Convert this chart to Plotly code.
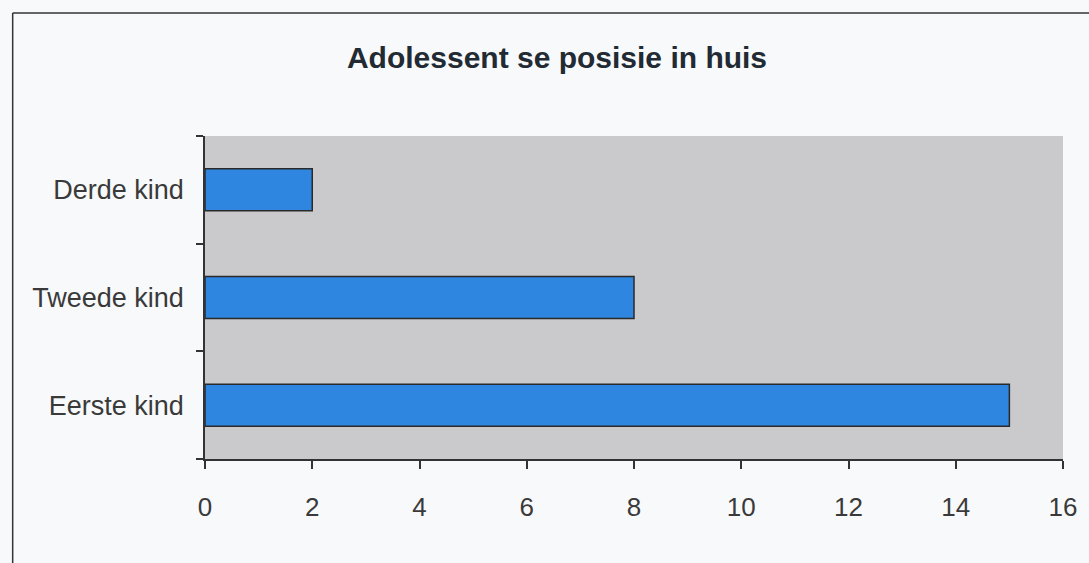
import plotly.graph_objects as go

categories = ["Eerste kind", "Tweede kind", "Derde kind"]
values = [15, 8, 2]
x_ticks = [0, 2, 4, 6, 8, 10, 12, 14, 16]

fig = go.Figure()
fig.add_trace(go.Bar(
    x=values, y=categories, orientation="h",
    marker=dict(color="#2f86e0", line=dict(color="#2a2a2a", width=1.5)),
    width=0.39,
))

# outer frame of the scanned chart
L, R, T, B = 205, 1066, 136, 459
def px(v):
    return (v - L) / (R - L)
def py(v):
    return (B - v) / (B - T)

fig.add_shape(type="line", xref="paper", yref="paper",
              x0=px(12), x1=px(1095), y0=py(13), y1=py(13),
              line=dict(color="#333333", width=1.5))
fig.add_shape(type="line", xref="paper", yref="paper",
              x0=px(12), x1=px(12), y0=py(13), y1=py(575),
              line=dict(color="#333333", width=1.5))

fig.update_layout(
    width=1089, height=563,
    margin=dict(l=L, r=1089 - R, t=T, b=563 - B),
    paper_bgcolor="#f8f9fb",
    plot_bgcolor="#cacacc",
    showlegend=False,
    title=dict(text="<b>Adolessent se posisie in huis</b>",
               x=557 / 1089, xanchor="center", y=1 - 57 / 563, yanchor="middle",
               font=dict(family="Liberation Sans", size=30, color="#222a33")),
    font=dict(family="Liberation Sans", color="#333333"),
)
fig.update_xaxes(
    range=[0, 16], tickvals=x_ticks, showgrid=False, zeroline=False,
    showline=True, linecolor="#333333", linewidth=1.5,
    ticks="outside", ticklen=8, tickcolor="#333333", tickwidth=1.5,
    tickfont=dict(size=26, color="#3a3a3a"), ticklabelstandoff=16,
)
fig.update_yaxes(
    categoryorder="array", categoryarray=categories,
    range=[-0.5, 2.5], showgrid=False, zeroline=False,
    showline=True, linecolor="#333333", linewidth=1.5,
    ticks="outside", tickson="boundaries", ticklen=7, tickcolor="#333333", tickwidth=1.5,
    tickfont=dict(size=27, color="#3a3a3a"), ticklabelstandoff=14,
)

fig.write_html("out.html", config={"displayModeBar": False},
               post_script="document.body.style.margin='0';")
